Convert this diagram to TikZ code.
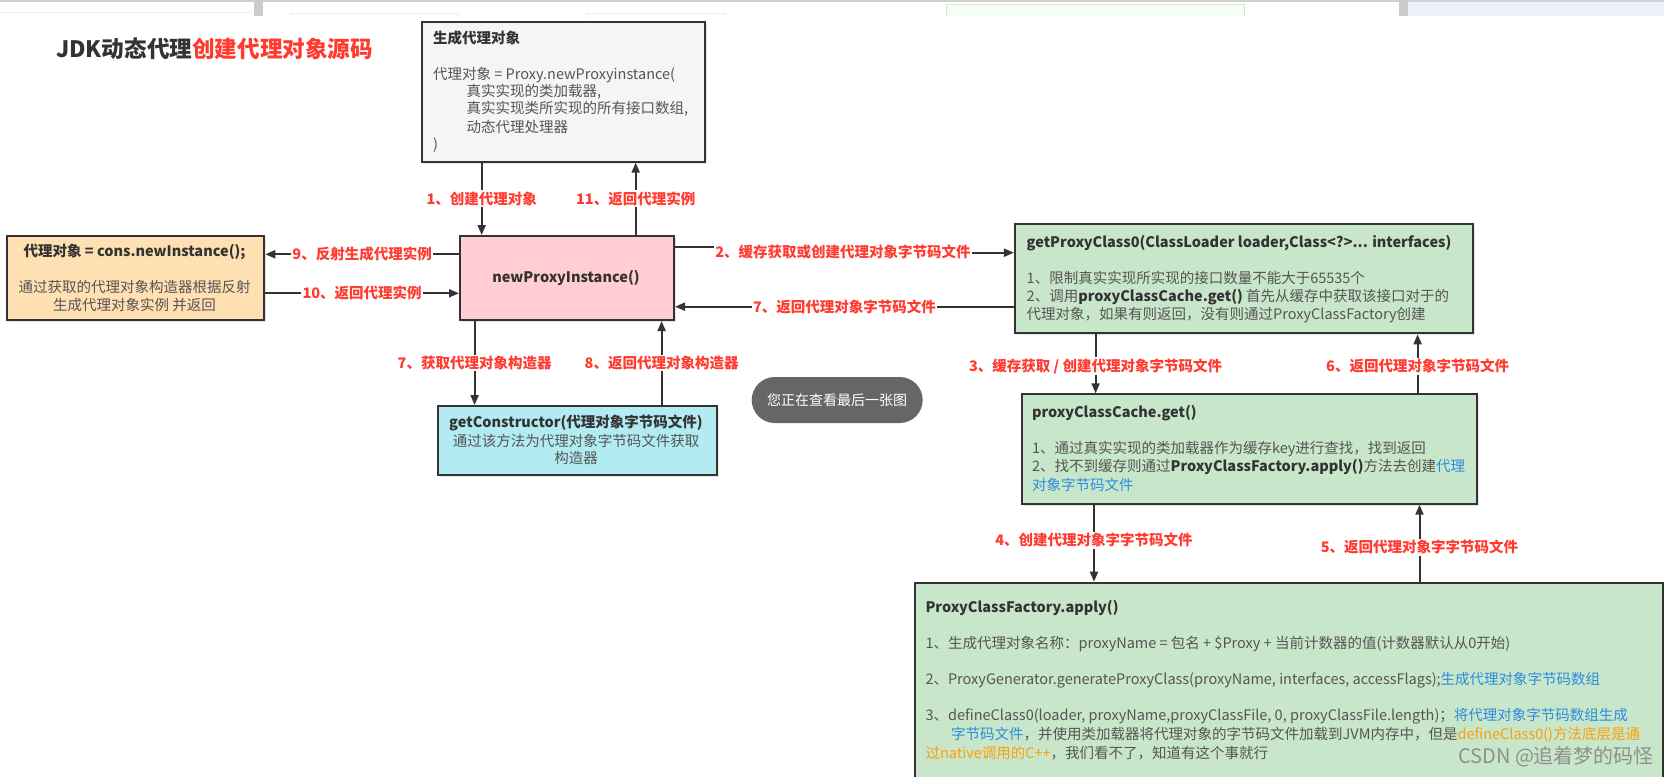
\documentclass[tikz,border=0pt]{standalone}
\usepackage{fontspec}
\setmainfont{Noto Sans CJK SC}
\usetikzlibrary{arrows.meta,shadows}
\definecolor{edge}{HTML}{333333}
\definecolor{lblred}{HTML}{FF3B30}
\definecolor{graytext}{HTML}{555555}
\definecolor{hdr}{HTML}{333333}
\definecolor{genfill}{HTML}{F5F5F5}
\definecolor{pinkfill}{HTML}{FFCDD2}
\definecolor{orangefill}{HTML}{FFE0B2}
\definecolor{cyanfill}{HTML}{B2EBF2}
\definecolor{greenfill}{HTML}{C8E6C9}
\definecolor{bluetxt}{HTML}{2D8CE0}
\definecolor{orangetxt}{HTML}{FF9E0D}
\definecolor{tipfill}{HTML}{666666}
\definecolor{wmark}{HTML}{8F8F8F}
\definecolor{lav}{HTML}{EEF0FD}
\begin{document}
\begin{tikzpicture}[x=1pt,y=-1pt,
  box/.style={draw=edge, line width=2pt, inner sep=0pt, anchor=north west,
    drop shadow={shadow xshift=2pt,shadow yshift=-2pt,opacity=.2}},
  arr/.style={draw=edge, line width=2pt, -{Triangle[length=10pt,width=8pt]}},
  lbl/.style={fill=white, text=lblred, font=\fontsize{14.5}{16}\selectfont\bfseries, inner sep=1.5pt},
  t/.style={anchor=west, inner sep=0pt, text=graytext, font=\fontsize{14.5}{17}\selectfont},
  tc/.style={t, anchor=center},
  th/.style={t, text=hdr, font=\fontsize{14.5}{17}\selectfont\bfseries},
  thc/.style={th, anchor=center},
]
\useasboundingbox (0,0) rectangle (1664,776);
\clip (0,0) rectangle (1664,776);
\fill[white] (0,0) rectangle (1664,776);
% screenshot artifacts at the top
\fill[black!18] (0,0) rectangle (1664,2.5);
\fill[black!20] (254,0) rectangle (263,16);
\fill[black!20] (1399,0) rectangle (1408,16);
\fill[lav] (1408,2.5) rectangle (1664,16);
\fill[green!4] (946,4.5) rectangle (1244,16);
\draw[black!12] (946,16) -- (946,4.5) -- (1244,4.5) -- (1244,16);
\draw[red!10] (290,17) -- (290,13) -- (458,13) -- (458,17);
\draw[red!10] (586,17) -- (586,13) -- (725,13) -- (725,17);
\draw[black!8] (0,12.7) -- (252,12.7);

% title
\node[anchor=west, inner sep=0pt, font=\fontsize{22.6}{25}\selectfont\bfseries, text=hdr] (title) at (56,48.3)
  {JDK动态代理\textcolor{lblred}{创建代理对象源码}};

% boxes
\node[box, fill=genfill, minimum width=283.3pt, minimum height=140pt] (gen) at (420.7,20.7) {};
\node[box, fill=pinkfill, minimum width=214pt, minimum height=84pt] (npi) at (459,235) {};
\node[box, fill=orangefill, minimum width=257pt, minimum height=84.3pt] (ori) at (6.3,235) {};
\node[box, fill=cyanfill, minimum width=279.3pt, minimum height=68.7pt] (gc) at (436.7,405) {};
\node[box, fill=greenfill, minimum width=457.6pt, minimum height=109.6pt] (gp0) at (1013.9,222.7) {};
\node[box, fill=greenfill, minimum width=455.8pt, minimum height=109.4pt] (pcc) at (1020.6,393.3) {};
\node[box, fill=greenfill, minimum width=748.4pt, minimum height=220pt] (pcf) at (913.6,581.7) {};

% texts: gen
\node[th] (gen0) at (433,38.3) {生成代理对象};
\node[t] (gen1) at (433,75) {代理对象 = Proxy.newProxyinstance(};
\node[t] (gen2) at (466.5,91.5) {真实实现的类加载器,};
\node[t] (gen3) at (466.5,108.8) {真实实现类所实现的所有接口数组,};
\node[t] (gen4) at (466.5,126.7) {动态代理处理器};
\node[t] (gen5) at (433,145) {)};
% npi
\node[thc] (npit) at (566,278) {newProxyInstance()};
% ori
\node[thc] (ori0) at (134.5,252.3) {代理对象 = cons.newInstance();};
\node[tc] (ori1) at (134.5,287.3) {通过获取的代理对象构造器根据反射};
\node[tc] (ori2) at (134.5,305) {生成代理对象实例 并返回};
% gc
\node[thc] (gc0) at (576,422.7) {getConstructor(代理对象字节码文件)};
\node[tc] (gc1) at (576,440.7) {通过该方法为代理对象字节码文件获取};
\node[tc] (gc2) at (576,458.3) {构造器};
% gp0
\node[th] (gp00) at (1026.5,242.7) {getProxyClass0(ClassLoader loader,Class<?>... interfaces)};
\node[t] (gp01) at (1026.5,278.3) {1、限制真实实现所实现的接口数量不能大于65535个};
\node[t] (gp02) at (1026.5,296.7) {2、调用\textbf{\textcolor{hdr}{proxyClassCache.get()}} 首先从缓存中获取该接口对于的};
\node[t] (gp03) at (1026.5,315) {代理对象，如果有则返回，没有则通过ProxyClassFactory创建};
% pcc
\node[th] (pcc0) at (1031.8,413.3) {proxyClassCache.get()};
\node[t] (pcc1) at (1031.8,449.3) {1、通过真实实现的类加载器作为缓存key进行查找，找到返回};
\node[t] (pcc2) at (1031.8,467.3) {2、找不到缓存则通过\textbf{\textcolor{hdr}{ProxyClassFactory.apply()}}方法去创建\textcolor{bluetxt}{代理}};
\node[t, text=bluetxt] (pcc3) at (1031.8,485) {对象字节码文件};
% pcf
\node[th] (pcf0) at (925.3,608.3) {ProxyClassFactory.apply()};
\node[t] (pcf1) at (925.3,644) {1、生成代理对象名称：proxyName = 包名 + \$Proxy + 当前计数器的值(计数器默认从0开始)};
\node[t] (pcf2) at (925.3,680) {2、ProxyGenerator.generateProxyClass(proxyName, interfaces, accessFlags);\textcolor{bluetxt}{生成代理对象字节码数组}};
\node[t] (pcf3) at (925.3,716) {3、defineClass0(loader, proxyName,proxyClassFile, 0, proxyClassFile.length)；\textcolor{bluetxt}{将代理对象字节码数组生成}};
\node[t] (pcf4) at (951,734.3) {\textcolor{bluetxt}{字节码文件}，并使用类加载器将代理对象的字节码文件加载到JVM内存中，但是\textcolor{orangetxt}{defineClass0()方法底层是通}};
\node[t] (pcf5) at (925.3,752.7) {\textcolor{orangetxt}{过native调用的C++}，我们看不了，知道有这个事就行};

% connector positions
\coordinate (x1) at (481.7,0);
\coordinate (x11) at (635.7,0);
\coordinate (x7) at (474.6,0);
\coordinate (x8) at (661.6,0);
\coordinate (x3) at (1095.6,0);
\coordinate (x6) at (1417.6,0);
\coordinate (x4) at (1094,0);
\coordinate (x5) at (1419.5,0);
\coordinate (y9) at (0,254.3);
\coordinate (y10) at (0,293.3);
\coordinate (y2a) at (0,247.3);
\coordinate (y2b) at (0,252.7);
\coordinate (y7r) at (0,306.7);
\coordinate (c2) at (843,0);

\draw[arr] (gen.south -| x1) -- node[lbl] {1、创建代理对象} (npi.north -| x1);
\draw[arr] (npi.north -| x11) -- node[lbl] {11、返回代理实例} (gen.south -| x11);
\draw[arr] (npi.west |- y9) -- node[lbl] {9、反射生成代理实例} (ori.east |- y9);
\draw[arr] (ori.east |- y10) -- node[lbl] {10、返回代理实例} (npi.west |- y10);
\draw[arr] (npi.east |- y2a) -- (c2 |- y2a) -- (c2 |- y2b) -- (gp0.west |- y2b);
\node[lbl] (l2) at (843,251.7) {2、缓存获取或创建代理对象字节码文件};
\draw[arr] (gp0.west |- y7r) -- node[lbl] {7、返回代理对象字节码文件} (npi.east |- y7r);
\draw[arr] (npi.south -| x7) -- node[lbl] {7、获取代理对象构造器} (gc.north -| x7);
\draw[arr] (gc.north -| x8) -- node[lbl] {8、返回代理对象构造器} (npi.south -| x8);
\draw[arr] (gp0.south -| x3) -- node[lbl, pos=0.54] {3、缓存获取 / 创建代理对象字节码文件} (pcc.north -| x3);
\draw[arr] (pcc.north -| x6) -- node[lbl, pos=0.46] {6、返回代理对象字节码文件} (gp0.south -| x6);
\draw[arr] (pcc.south -| x4) -- node[lbl, pos=0.46] {4、创建代理对象字字节码文件} (pcf.north -| x4);
\draw[arr] (pcf.north -| x5) -- node[lbl, pos=0.45] {5、返回代理对象字字节码文件} (pcc.south -| x5);

% tooltip
\node[fill=tipfill, rounded corners=23pt, minimum width=171pt, minimum height=46pt, inner sep=0pt,
  text=white, font=\fontsize{14}{16}\selectfont] (tip) at (837.2,400) {您正在查看最后一张图};

% watermark
\node[anchor=west, inner sep=0pt, text=wmark, font=\fontsize{20}{22}\selectfont] (wm) at (1458,756.7) {CSDN @追着梦的码怪};
\end{tikzpicture}
\end{document}
